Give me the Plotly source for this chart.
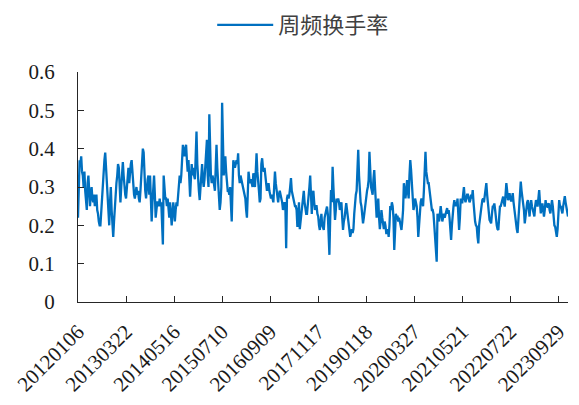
import plotly.graph_objects as go

series_name = "周频换手率"
tick_labels = ["20120106", "20130322", "20140516", "20150710", "20160909", "20171117",
               "20190118", "20200327", "20210521", "20220722", "20230929"]
tick_step = 60  # weekly observations between labelled dates

turnover = [
    0.22, 0.30, 0.37, 0.36, 0.38, 0.34, 0.33, 0.30, 0.34, 0.29,
    0.25, 0.24, 0.31, 0.33, 0.29, 0.25, 0.28, 0.30, 0.27, 0.26,
    0.28, 0.25, 0.27, 0.28, 0.24, 0.23, 0.21, 0.20, 0.20, 0.24,
    0.27, 0.30, 0.34, 0.37, 0.39, 0.35, 0.30, 0.25, 0.22, 0.20,
    0.26, 0.30, 0.24, 0.19, 0.17, 0.21, 0.25, 0.28, 0.31, 0.33,
    0.36, 0.35, 0.30, 0.26, 0.30, 0.34, 0.365, 0.33, 0.29, 0.28,
    0.27, 0.30, 0.33, 0.35, 0.31, 0.34, 0.36, 0.37, 0.33, 0.30,
    0.28, 0.27, 0.29, 0.30, 0.28, 0.29, 0.27, 0.26, 0.29, 0.32,
    0.36, 0.40, 0.39, 0.33, 0.29, 0.27, 0.30, 0.32, 0.33, 0.28,
    0.33, 0.27, 0.21, 0.26, 0.31, 0.33, 0.28, 0.22, 0.24, 0.26,
    0.26, 0.25, 0.27, 0.25, 0.26, 0.21, 0.15, 0.33, 0.30, 0.27,
    0.27, 0.25, 0.27, 0.24, 0.22, 0.26, 0.22, 0.20, 0.23, 0.26,
    0.24, 0.21, 0.24, 0.26, 0.25, 0.28, 0.30, 0.33, 0.31, 0.33,
    0.37, 0.41, 0.39, 0.38, 0.40, 0.41, 0.37, 0.34, 0.37, 0.33,
    0.275, 0.32, 0.36, 0.33, 0.35, 0.33, 0.32, 0.38, 0.445, 0.36,
    0.31, 0.29, 0.266, 0.30, 0.33, 0.36, 0.32, 0.30, 0.32, 0.35,
    0.38, 0.423, 0.33, 0.30, 0.49, 0.36, 0.33, 0.31, 0.33, 0.32,
    0.30, 0.29, 0.35, 0.41, 0.35, 0.31, 0.27, 0.24, 0.26, 0.30,
    0.52, 0.40, 0.33, 0.36, 0.38, 0.34, 0.31, 0.29, 0.29, 0.28,
    0.30, 0.26, 0.21, 0.30, 0.37, 0.36, 0.35, 0.36, 0.37, 0.36,
    0.388, 0.33, 0.31, 0.33, 0.32, 0.31, 0.30, 0.29, 0.28, 0.27,
    0.24, 0.22, 0.28, 0.34, 0.32, 0.31, 0.32, 0.31, 0.30, 0.336,
    0.32, 0.30, 0.34, 0.388, 0.34, 0.32, 0.29, 0.26, 0.27, 0.36,
    0.375, 0.35, 0.34, 0.35, 0.33, 0.31, 0.29, 0.30, 0.31, 0.29,
    0.28, 0.27, 0.28, 0.27, 0.26, 0.30, 0.34, 0.31, 0.29, 0.27,
    0.26, 0.28, 0.29, 0.28, 0.27, 0.26, 0.24, 0.25, 0.26, 0.25,
    0.14, 0.27, 0.28, 0.27, 0.28, 0.30, 0.323, 0.29, 0.28, 0.27,
    0.26, 0.25, 0.25, 0.24, 0.196, 0.23, 0.26, 0.19, 0.21, 0.24,
    0.25, 0.27, 0.29, 0.26, 0.24, 0.23, 0.23, 0.25, 0.27, 0.30,
    0.33, 0.27, 0.23, 0.28, 0.29, 0.26, 0.24, 0.25, 0.25, 0.23,
    0.223, 0.20, 0.188, 0.21, 0.23, 0.20, 0.19, 0.188, 0.22, 0.23,
    0.24, 0.249, 0.23, 0.19, 0.123, 0.22, 0.292, 0.26, 0.353, 0.30,
    0.27, 0.214, 0.24, 0.27, 0.26, 0.27, 0.26, 0.24, 0.25, 0.26,
    0.22, 0.188, 0.21, 0.22, 0.24, 0.258, 0.24, 0.22, 0.20, 0.18,
    0.17, 0.18, 0.19, 0.18, 0.19, 0.23, 0.266, 0.28, 0.29, 0.35,
    0.397, 0.33, 0.27, 0.26, 0.25, 0.23, 0.205, 0.22, 0.24, 0.25,
    0.27, 0.29, 0.30, 0.318, 0.392, 0.34, 0.30, 0.29, 0.28, 0.32,
    0.344, 0.30, 0.26, 0.22, 0.24, 0.27, 0.22, 0.19, 0.21, 0.24,
    0.22, 0.20, 0.19, 0.21, 0.20, 0.18, 0.18, 0.19, 0.17, 0.20,
    0.25, 0.24, 0.26, 0.25, 0.22, 0.136, 0.20, 0.23, 0.22, 0.225,
    0.21, 0.22, 0.21, 0.20, 0.188, 0.21, 0.24, 0.31, 0.28, 0.27,
    0.29, 0.318, 0.29, 0.27, 0.33, 0.37, 0.345, 0.30, 0.28, 0.24,
    0.25, 0.27, 0.26, 0.25, 0.22, 0.17, 0.20, 0.25, 0.26, 0.27,
    0.26, 0.25, 0.29, 0.35, 0.392, 0.34, 0.32, 0.31, 0.31, 0.29,
    0.28, 0.26, 0.24, 0.24, 0.23, 0.20, 0.16, 0.13, 0.105, 0.23,
    0.22, 0.21, 0.23, 0.25, 0.23, 0.21, 0.22, 0.23, 0.22, 0.23,
    0.24, 0.245, 0.23, 0.24, 0.22, 0.19, 0.162, 0.20, 0.24, 0.25,
    0.266, 0.25, 0.26, 0.25, 0.27, 0.23, 0.188, 0.22, 0.27, 0.26,
    0.26, 0.28, 0.30, 0.27, 0.26, 0.27, 0.28, 0.28, 0.27, 0.26,
    0.266, 0.28, 0.27, 0.292, 0.26, 0.223, 0.21, 0.20, 0.197, 0.17,
    0.153, 0.20, 0.223, 0.24, 0.25, 0.266, 0.27, 0.26, 0.284, 0.30,
    0.31, 0.28, 0.257, 0.23, 0.214, 0.21, 0.205, 0.23, 0.249, 0.25,
    0.257, 0.24, 0.214, 0.20, 0.19, 0.188, 0.22, 0.249, 0.25, 0.257,
    0.27, 0.275, 0.26, 0.249, 0.28, 0.31, 0.29, 0.266, 0.27, 0.284,
    0.27, 0.262, 0.27, 0.284, 0.26, 0.24, 0.22, 0.205, 0.19, 0.18,
    0.21, 0.249, 0.28, 0.314, 0.29, 0.275, 0.26, 0.24, 0.205, 0.23,
    0.249, 0.26, 0.266, 0.24, 0.223, 0.25, 0.266, 0.25, 0.24, 0.23,
    0.223, 0.25, 0.266, 0.26, 0.249, 0.27, 0.292, 0.26, 0.231, 0.25,
    0.257, 0.24, 0.223, 0.24, 0.266, 0.25, 0.249, 0.255, 0.257, 0.24,
    0.231, 0.25, 0.266, 0.25, 0.214, 0.20, 0.196, 0.18, 0.17, 0.19,
    0.24, 0.266, 0.25, 0.249, 0.24, 0.231, 0.25, 0.26, 0.276, 0.26,
    0.249, 0.23, 0.223,
]

x_idx = list(range(len(turnover)))
tick_vals = [i * tick_step for i in range(len(tick_labels))]

fig = go.Figure()
fig.add_trace(go.Scatter(
    x=x_idx, y=turnover, mode="lines", name=series_name,
    line=dict(color="#0070C0", width=2.3),
))

axis_font = dict(family="Times New Roman, Liberation Serif, serif", size=21, color="#1a1a1a")

fig.update_layout(
    width=579, height=405,
    margin=dict(l=78, r=11, t=72, b=103, autoexpand=False),
    paper_bgcolor="white", plot_bgcolor="white",
    showlegend=True,
    legend=dict(
        orientation="h", xref="container", x=0.3665, xanchor="left",
        yref="container", y=1 - 25 / 405, yanchor="middle",
        font=dict(family="Noto Sans CJK SC", size=22, color="#404040"),
        itemwidth=56, bgcolor="rgba(0,0,0,0)",
    ),
    xaxis=dict(
        range=[0, len(turnover) - 1], tickmode="array", tickvals=tick_vals, ticktext=tick_labels,
        tickangle=-45, showline=True, linecolor="#262626", linewidth=1.3, automargin=False,
        ticks="inside", ticklen=6, tickcolor="#262626", showgrid=False, zeroline=False,
        tickfont=axis_font, ticklabelstandoff=8,
    ),
    yaxis=dict(
        range=[0, 0.6], tickmode="array", tickvals=[0, 0.1, 0.2, 0.3, 0.4, 0.5, 0.6],
        ticktext=["0", "0.1", "0.2", "0.3", "0.4", "0.5", "0.6"], automargin=False,
        showline=True, linecolor="#262626", linewidth=1.3,
        ticks="inside", ticklen=6, tickcolor="#262626", showgrid=False, zeroline=False,
        tickfont=axis_font, ticklabelstandoff=18,
    ),
)

fig.write_html("out.html", post_script="document.body.style.margin='0';",
               config={"displayModeBar": False})
